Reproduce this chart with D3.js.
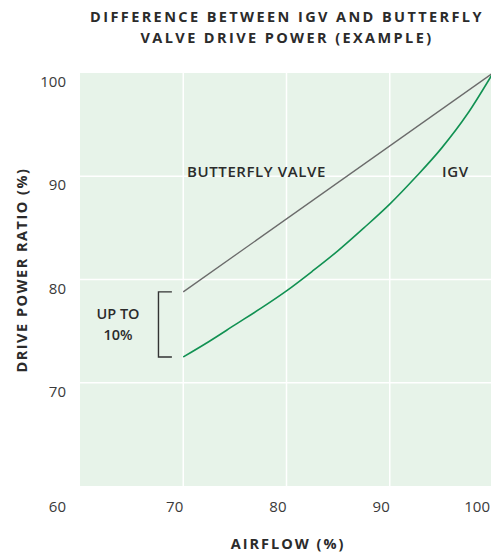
<!DOCTYPE html>
<html>
<head>
<meta charset="utf-8">
<script src="https://cdn.jsdelivr.net/npm/d3@7"></script>
<style>
  html, body { margin: 0; padding: 0; background: #fff; }
  svg { display: block; font-family: "Open Sans", Lato, sans-serif; }
</style>
</head>
<body>
<svg id="chart" width="491" height="554"></svg>
<script>
// data
const airflow = [70, 72.5, 75, 77.5, 80, 82.5, 85, 87.5, 90, 92.5, 95, 97.5, 100];
const igvPower = [72.5, 74.0, 75.6, 77.2, 78.9, 80.8, 82.8, 85.0, 87.3, 89.9, 92.7, 96.0, 100];
const butterflyAirflow = [70, 100];
const butterflyPower = [78.8, 100];
const xTicks = [60, 70, 80, 90, 100];
const yTicks = [70, 80, 90, 100];
const gridX = [70, 80, 90];
const gridY = [70, 80, 90];
const titleLines = ['DIFFERENCE BETWEEN IGV AND BUTTERFLY', 'VALVE DRIVE POWER (EXAMPLE)'];

const d3 = window.d3;
const svg = d3.select('#chart');

const config = {
  'bg': '#e7f3e9',
  'grid': '#ffffff',
  'igv': '#119152',
  'butterfly': '#6b6b6b',
  'text': '#2b2b2b',
  'tick': '#3a3a3a'
};

const x = d3.scaleLinear().domain([60, 100]).range([80, 493]);
const y = d3.scaleLinear().domain([60, 100]).range([486, 73]);

svg.append('rect')
  .attr('x', x(60))
  .attr('y', y(100))
  .attr('width', x(100) - x(60))
  .attr('height', y(60) - y(100))
  .attr('fill', config['bg']);

svg.append('g')
  .selectAll('line')
  .data(gridX)
  .enter()
  .append('line')
  .attr('x1', d => x(d)).attr('x2', d => x(d))
  .attr('y1', y(100)).attr('y2', y(60))
  .attr('stroke', config['grid'])
  .attr('stroke-width', 1.5);

svg.append('g')
  .selectAll('line')
  .data(gridY)
  .enter()
  .append('line')
  .attr('y1', d => y(d)).attr('y2', d => y(d))
  .attr('x1', x(60)).attr('x2', x(100))
  .attr('stroke', config['grid'])
  .attr('stroke-width', 1.5);

// tick labels
svg.append('g')
  .selectAll('text')
  .data(yTicks)
  .enter()
  .append('text')
  .attr('x', 66)
  .attr('y', d => y(d) + 14)
  .attr('text-anchor', 'end')
  .attr('font-size', 15)
  .attr('fill', config['tick'])
  .text(d => d);

// the 60 sits in the corner, left of the plot; 100 runs into the right edge
svg.append('g')
  .selectAll('text')
  .data(xTicks)
  .enter()
  .append('text')
  .attr('x', d => d === 60 ? 66 : Math.min(x(d), 490))
  .attr('y', 512)
  .attr('text-anchor', 'end')
  .attr('font-size', 15)
  .attr('fill', config['tick'])
  .text(d => d);

// lines
svg.append('path')
  .datum(butterflyAirflow.map((a, i) => [a, butterflyPower[i]]))
  .attr('d', d3.line().x(d => x(d[0])).y(d => y(d[1])))
  .attr('fill', 'none')
  .attr('stroke', config['butterfly'])
  .attr('stroke-width', 1.3);

svg.append('path')
  .datum(airflow.map((a, i) => [a, igvPower[i]]))
  .attr('d', d3.line().x(d => x(d[0])).y(d => y(d[1])).curve(d3.curveMonotoneX))
  .attr('fill', 'none')
  .attr('stroke', config['igv'])
  .attr('stroke-width', 1.6);

// bracket
const bx1 = x(67.6);
const bx2 = x(68.9);
svg.append('path')
  .attr('d', `M${bx2},${y(butterflyPower[0])} H${bx1} V${y(igvPower[0])} H${bx2}`)
  .attr('fill', 'none')
  .attr('stroke', '#333')
  .attr('stroke-width', 1.4);

svg.append('text')
  .attr('font-size', 14.5)
  .attr('font-weight', 600)
  .attr('fill', config['text'])
  .attr('text-anchor', 'middle')
  .selectAll('tspan')
  .data(['UP TO', '10%'])
  .enter()
  .append('tspan')
  .attr('x', 118)
  .attr('y', (d, i) => 319 + i * 21)
  .text(d => d);

svg.append('text')
  .attr('x', 187)
  .attr('y', 177)
  .attr('font-size', 15)
  .attr('font-weight', 600)
  .attr('letter-spacing', 0.6)
  .attr('fill', config['text'])
  .text('BUTTERFLY VALVE');

svg.append('text')
  .attr('x', 442)
  .attr('y', 177)
  .attr('font-size', 15)
  .attr('font-weight', 600)
  .attr('letter-spacing', 0.6)
  .attr('fill', config['text'])
  .text('IGV');

// titles
svg.append('text')
  .attr('font-size', 14.5)
  .attr('font-weight', 700)
  .attr('letter-spacing', 2.4)
  .attr('fill', config['text'])
  .attr('text-anchor', 'middle')
  .selectAll('tspan')
  .data(titleLines)
  .enter()
  .append('tspan')
  .attr('x', 287)
  .attr('y', (d, i) => 22 + i * 21)
  .text(d => d);

svg.append('text')
  .attr('x', 288)
  .attr('y', 549)
  .attr('font-size', 14.5)
  .attr('font-weight', 700)
  .attr('letter-spacing', 2)
  .attr('fill', config['text'])
  .attr('text-anchor', 'middle')
  .text('AIRFLOW (%)');

svg.append('text')
  .attr('transform', 'translate(27, 270) rotate(-90)')
  .attr('font-size', 14.5)
  .attr('font-weight', 700)
  .attr('letter-spacing', 1.5)
  .attr('fill', config['text'])
  .attr('text-anchor', 'middle')
  .text('DRIVE POWER RATIO (%)');
</script>
</body>
</html>
